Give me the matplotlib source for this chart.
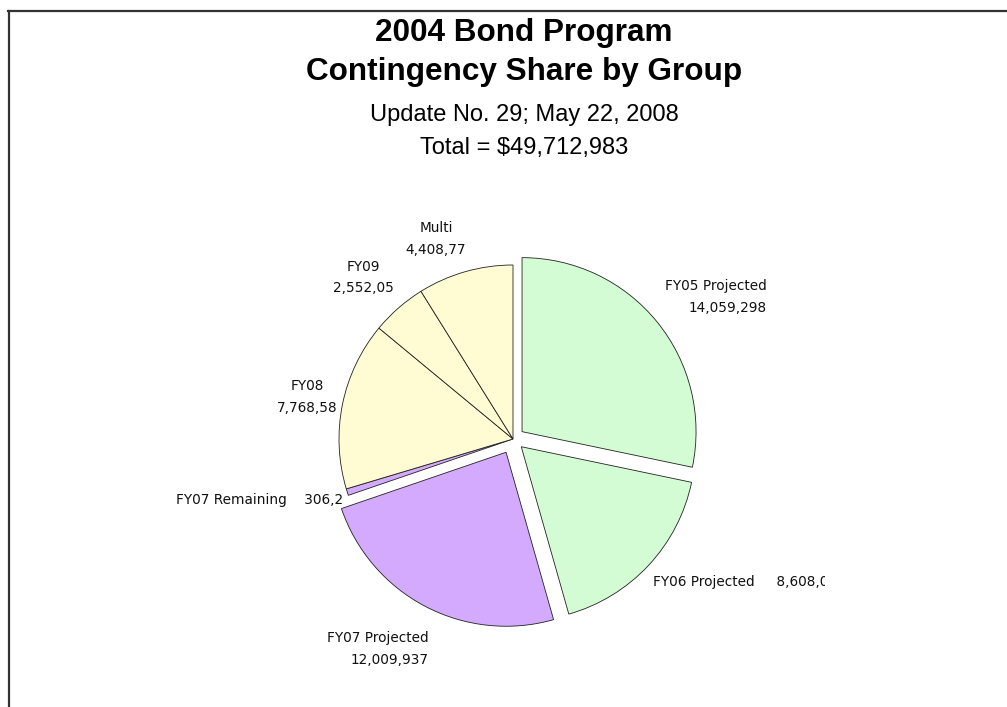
import matplotlib
matplotlib.use("Agg")
import matplotlib.pyplot as plt
from matplotlib.lines import Line2D
from matplotlib.transforms import Bbox, TransformedBbox

# slice data, clockwise from 12 o'clock
groups = ["FY05 Projected", "FY06 Projected", "FY07 Projected", "FY07 Remaining",
          "FY08", "FY09", "Multi"]
amounts = [14059298, 8608080, 12009937, 306250, 7768585, 2552055, 4408778]
shown = ["14,059,298", "8,608,0", "12,009,937", "306,2", "7,768,58", "2,552,05", "4,408,77"]

green = "#d4fcd4"
purple = "#d4aaff"
yellow = "#fffcd4"
colors = [green, green, purple, purple, yellow, yellow, yellow]
pull = [0.067, 0.065, 0.086, 0, 0, 0, 0]   # fraction of radius

W, H = 1007, 707
fig = plt.figure(figsize=(W / 100, H / 100), dpi=100)
ax = fig.add_axes([0, 0, 1, 1])

# pixel space: 1 unit = 1 px, y upward
cx, cy, r = 513, H - 439, 174
ax.pie(amounts, colors=colors, explode=[p * r for p in pull], startangle=90,
       counterclock=False, center=(cx, cy), radius=r,
       wedgeprops=dict(edgecolor="#222222", linewidth=0.6))
ax.set_xlim(0, W)
ax.set_ylim(0, H)
ax.set_aspect("auto")
ax.axis("off")

# frame lines (top and left only)
fig.add_artist(Line2D([8 / W, 1], [1 - 11 / H, 1 - 11 / H], color="#333333", lw=1.6))
fig.add_artist(Line2D([9 / W, 9 / W], [0, 1 - 11 / H], color="#333333", lw=1.6))

# titles
tfont = "Liberation Sans"
tx = 524
ax.text(tx, H - 33, "2004 Bond Program", ha="center", va="center",
        fontsize=22.7, fontweight="bold", family=tfont)
ax.text(tx, H - 72, "Contingency Share by Group", ha="center", va="center",
        fontsize=22.7, fontweight="bold", family=tfont)
ax.text(tx, H - 115, "Update No. 29; May 22, 2008", ha="center", va="center",
        fontsize=17, family=tfont)
ax.text(tx, H - 148, "Total = $" + f"{sum(amounts):,}", ha="center", va="center",
        fontsize=17, family=tfont)

# slice labels
lfs = 9.8
lc = "#111111"
ax.text(767, H - 286, groups[0], ha="right", va="center", fontsize=lfs, color=lc)
ax.text(767, H - 308, shown[0], ha="right", va="center", fontsize=lfs, color=lc)

# this one is cut off at the right in the original
t6 = ax.text(653, H - 582, groups[1] + "     " + shown[1], ha="left", va="center",
             fontsize=lfs, color=lc)
t6.set_clip_box(TransformedBbox(Bbox([[0, 0], [825, H]]), ax.transData))
t6.set_clip_on(True)

ax.text(429, H - 638, groups[2], ha="right", va="center", fontsize=lfs, color=lc)
ax.text(429, H - 660, shown[2], ha="right", va="center", fontsize=lfs, color=lc)

ax.text(343, H - 500, groups[3] + "    " + shown[3], ha="right", va="center",
        fontsize=lfs, color=lc)

ax.text(307, H - 386, groups[4], ha="center", va="center", fontsize=lfs, color=lc)
ax.text(307, H - 408, shown[4], ha="center", va="center", fontsize=lfs, color=lc)

ax.text(363, H - 267, groups[5], ha="center", va="center", fontsize=lfs, color=lc)
ax.text(363, H - 288, shown[5], ha="center", va="center", fontsize=lfs, color=lc)

ax.text(436, H - 228, groups[6], ha="center", va="center", fontsize=lfs, color=lc)
ax.text(436, H - 250, shown[6], ha="center", va="center", fontsize=lfs, color=lc)

fig.savefig("out.png", dpi=100)
